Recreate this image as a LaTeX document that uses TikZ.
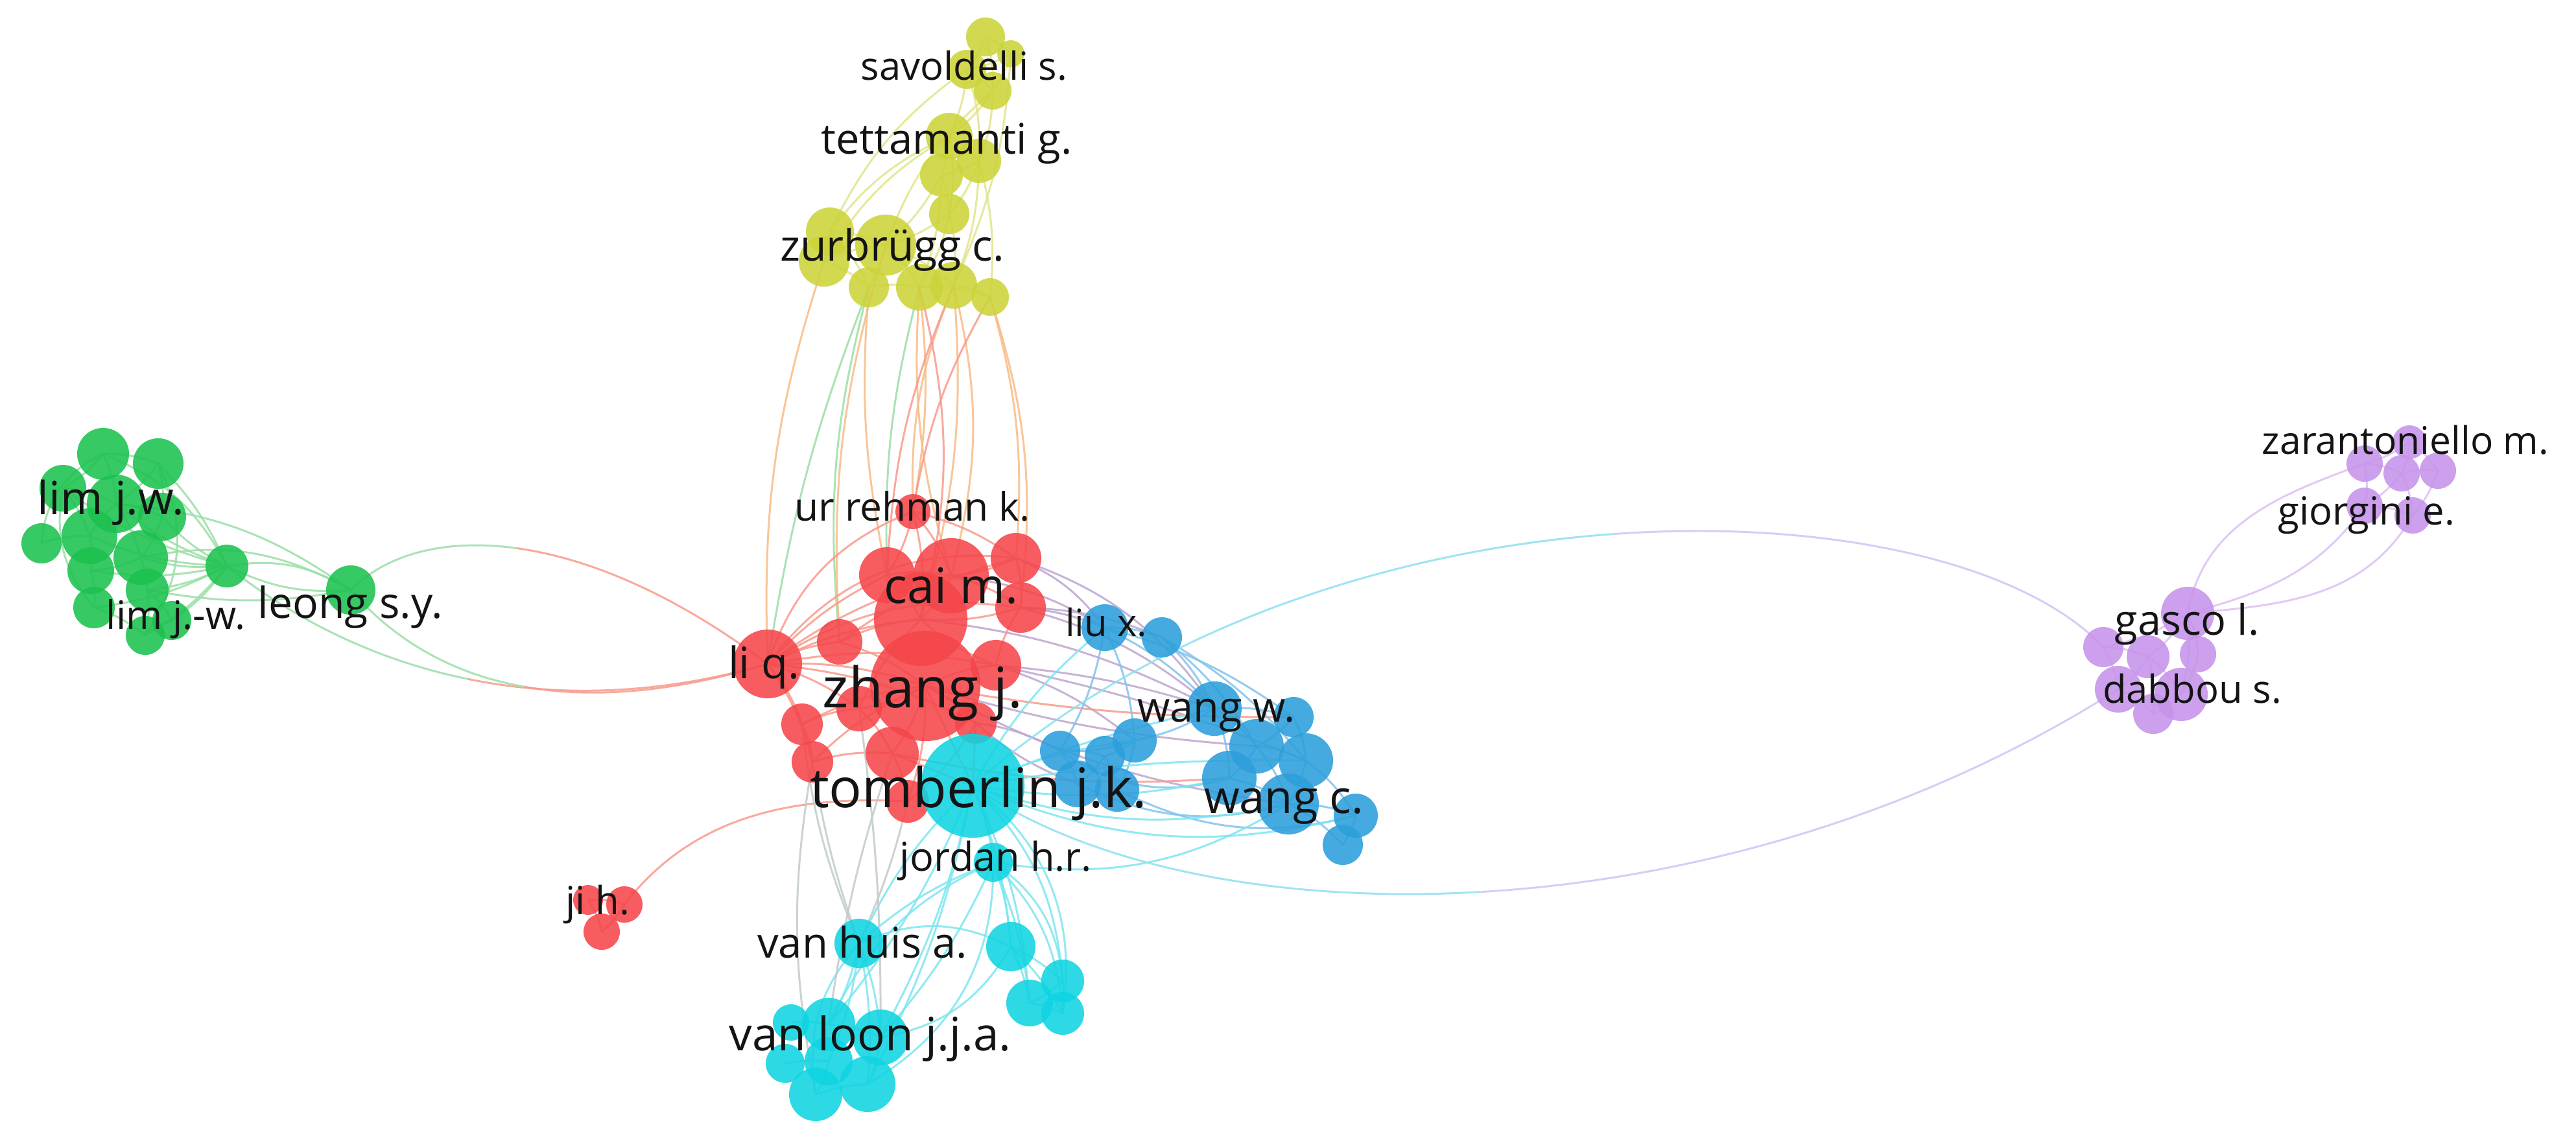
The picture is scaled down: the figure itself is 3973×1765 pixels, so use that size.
\documentclass[tikz,border=0pt]{standalone}
\usepackage{fontspec}
\setmainfont{Open Sans}
\pgfdeclarelayer{bg}
\pgfsetlayers{bg,main}
\definecolor{cR}{HTML}{F5464A}
\definecolor{cG}{HTML}{1CC24F}
\definecolor{cY}{HTML}{CCD43A}
\definecolor{cB}{HTML}{2C9FDB}
\definecolor{cC}{HTML}{10D4E2}
\definecolor{cP}{HTML}{C693EA}
\definecolor{lR}{HTML}{F89A8C}
\definecolor{lY}{HTML}{E2E48A}
\definecolor{lO}{HTML}{F8BC86}
\definecolor{lG}{HTML}{9ADFA6}
\definecolor{lB}{HTML}{84C3EC}
\definecolor{lC}{HTML}{7DE6F0}
\definecolor{lM}{HTML}{BEA6CE}
\definecolor{lK}{HTML}{C2CBCB}
\definecolor{lP}{HTML}{DCC0F4}
\definecolor{lCa}{HTML}{8EE0F0}
\definecolor{lPa}{HTML}{D3C2F5}
\begin{document}
\begin{tikzpicture}[x=0.01cm,y=-0.01cm,
  vn/.style={circle,inner sep=0pt,outer sep=0pt,draw=none,fill opacity=0.88},
  nR/.style={vn,fill=cR}, nG/.style={vn,fill=cG}, nY/.style={vn,fill=cY},
  nB/.style={vn,fill=cB}, nC/.style={vn,fill=cC}, nP/.style={vn,fill=cP},
  ed/.style={line width=0.85pt,draw opacity=0.85},
  eR/.style={ed,draw=lR}, eY/.style={ed,draw=lY}, eO/.style={ed,draw=lO},
  eG/.style={ed,draw=lG}, eB/.style={ed,draw=lB}, eC/.style={ed,draw=lC},
  eM/.style={ed,draw=lM}, eK/.style={ed,draw=lK}, eP/.style={ed,draw=lP},
  eCa/.style={ed,draw=lCa}, ePa/.style={ed,draw=lPa},
  lab/.style={font=\fontsize{#1}{#1}\selectfont,anchor=base,inner sep=0pt,text=black!92}]
\useasboundingbox (0,0) rectangle (3973,1765);

% ---------------- nodes ----------------
% yellow
\node[nY,minimum size=0.60cm] (y1) at (1520,57) {};
\node[nY,minimum size=0.42cm] (y2) at (1559,83) {};
\node[nY,minimum size=0.60cm] (y3) at (1491,107) {};
\node[nY,minimum size=0.58cm] (y4) at (1531,140) {};
\node[nY,minimum size=0.72cm] (y5) at (1464,210) {};
\node[nY,minimum size=0.68cm] (y6) at (1510,248) {};
\node[nY,minimum size=0.66cm] (y7) at (1452,270) {};
\node[nY,minimum size=0.62cm] (y8) at (1464,330) {};
\node[nY,minimum size=0.74cm] (y9) at (1280,357) {};
\node[nY,minimum size=0.78cm] (y10) at (1271,403) {};
\node[nY,minimum size=0.94cm] (y11) at (1366,378) {};
\node[nY,minimum size=0.62cm] (y12) at (1340,443) {};
\node[nY,minimum size=0.72cm] (y13) at (1418,443) {};
\node[nY,minimum size=0.72cm] (y14) at (1471,440) {};
\node[nY,minimum size=0.58cm] (y15) at (1527,458) {};
% green
\node[nG,minimum size=0.80cm] (g1) at (159,700) {};
\node[nG,minimum size=0.78cm] (g2) at (244,715) {};
\node[nG,minimum size=0.72cm] (g3) at (97,753) {};
\node[nG,minimum size=0.62cm] (g4) at (64,838) {};
\node[nG,minimum size=0.86cm] (g5) at (138,827) {};
\node[nG,minimum size=0.90cm] (g6) at (179,777) {};
\node[nG,minimum size=0.74cm] (g7) at (250,797) {};
\node[nG,minimum size=0.84cm] (g8) at (217,860) {};
\node[nG,minimum size=0.72cm] (g9) at (140,880) {};
\node[nG,minimum size=0.66cm] (g10) at (227,910) {};
\node[nG,minimum size=0.64cm] (g11) at (145,937) {};
\node[nG,minimum size=0.60cm] (g12) at (224,980) {};
\node[nG,minimum size=0.60cm] (g13) at (265,957) {};
\node[nG,minimum size=0.66cm] (g14) at (350,873) {};
\node[nG,minimum size=0.76cm] (g15) at (541,910) {};
% red
\node[nR,minimum size=1.70cm] (r9) at (1427,1058) {};
\node[nR,minimum size=1.44cm] (r8) at (1420,955) {};
\node[nR,minimum size=0.54cm] (r1) at (1408,789) {};
\node[nR,minimum size=0.78cm] (r2) at (1567,861) {};
\node[nR,minimum size=0.86cm] (r3) at (1368,887) {};
\node[nR,minimum size=1.16cm] (r4) at (1467,888) {};
\node[nR,minimum size=0.78cm] (r5) at (1574,937) {};
\node[nR,minimum size=1.06cm] (r6) at (1184,1024) {};
\node[nR,minimum size=0.70cm] (r7) at (1295,990) {};
\node[nR,minimum size=0.78cm] (r10) at (1536,1026) {};
\node[nR,minimum size=0.64cm] (r11) at (1237,1117) {};
\node[nR,minimum size=0.70cm] (r12) at (1325,1093) {};
\node[nR,minimum size=0.64cm] (r13) at (1253,1175) {};
\node[nR,minimum size=0.82cm] (r14) at (1376,1162) {};
\node[nR,minimum size=0.64cm] (r15) at (1505,1115) {};
\node[nR,minimum size=0.66cm] (r16) at (1400,1236) {};
\node[nR,minimum size=0.46cm] (j1) at (907,1388) {};
\node[nR,minimum size=0.56cm] (j2) at (963,1395) {};
\node[nR,minimum size=0.56cm] (j3) at (928,1437) {};
% blue
\node[nB,minimum size=0.72cm] (b1) at (1704,968) {};
\node[nB,minimum size=0.62cm] (b2) at (1792,983) {};
\node[nB,minimum size=0.84cm] (b3) at (1873,1093) {};
\node[nB,minimum size=0.62cm] (b4) at (1995,1106) {};
\node[nB,minimum size=0.68cm] (b5) at (1750,1142) {};
\node[nB,minimum size=0.62cm] (b6) at (1635,1158) {};
\node[nB,minimum size=0.62cm] (b7) at (1704,1166) {};
\node[nB,minimum size=0.84cm] (b8) at (1938,1151) {};
\node[nB,minimum size=0.84cm] (b9) at (2014,1173) {};
\node[nB,minimum size=0.84cm] (b10) at (1896,1200) {};
\node[nB,minimum size=0.94cm] (b11) at (1987,1240) {};
\node[nB,minimum size=0.72cm] (b12) at (1662,1209) {};
\node[nB,minimum size=0.68cm] (b13) at (1723,1218) {};
\node[nB,minimum size=0.68cm] (b14) at (2091,1258) {};
\node[nB,minimum size=0.62cm] (b15) at (2071,1303) {};
% cyan
\node[nC,minimum size=1.60cm] (c0) at (1500,1212) {};
\node[nC,minimum size=0.60cm] (c1) at (1532,1330) {};
\node[nC,minimum size=0.76cm] (c2) at (1325,1455) {};
\node[nC,minimum size=0.76cm] (c3) at (1559,1460) {};
\node[nC,minimum size=0.66cm] (c4) at (1639,1513) {};
\node[nC,minimum size=0.72cm] (c5) at (1588,1547) {};
\node[nC,minimum size=0.66cm] (c6) at (1639,1563) {};
\node[nC,minimum size=0.56cm] (c7) at (1220,1577) {};
\node[nC,minimum size=0.82cm] (c8) at (1278,1580) {};
\node[nC,minimum size=0.86cm] (c9) at (1358,1600) {};
\node[nC,minimum size=0.60cm] (c10) at (1211,1640) {};
\node[nC,minimum size=0.74cm] (c11) at (1278,1637) {};
\node[nC,minimum size=0.82cm] (c12) at (1258,1688) {};
\node[nC,minimum size=0.86cm] (c13) at (1338,1672) {};
% purple
\node[nP,minimum size=0.52cm] (p1) at (3716,682) {};
\node[nP,minimum size=0.56cm] (p2) at (3647,715) {};
\node[nP,minimum size=0.56cm] (p3) at (3704,730) {};
\node[nP,minimum size=0.56cm] (p4) at (3760,726) {};
\node[nP,minimum size=0.56cm] (p5) at (3647,780) {};
\node[nP,minimum size=0.56cm] (p6) at (3721,795) {};
\node[nP,minimum size=0.82cm] (p7) at (3374,946) {};
\node[nP,minimum size=0.62cm] (p8) at (3244,998) {};
\node[nP,minimum size=0.66cm] (p9) at (3313,1013) {};
\node[nP,minimum size=0.56cm] (p10) at (3390,1009) {};
\node[nP,minimum size=0.72cm] (p11) at (3267,1063) {};
\node[nP,minimum size=0.82cm] (p12) at (3364,1071) {};
\node[nP,minimum size=0.62cm] (p13) at (3321,1101) {};

% ---------------- labels ----------------
\node[lab=17]   (Lsav) at (1487,123) {savoldelli s.};
\node[lab=18.5] (Ltet) at (1460,237) {tettamanti g.};
\node[lab=18.8] (Lzur) at (1376,402) {zurbrügg c.};
\node[lab=20]   (Llim) at (171,793) {lim j.w.};
\node[lab=17.2] (Llim2) at (271,970) {lim j.-w.};
\node[lab=18.8] (Lleo) at (540,953) {leong s.y.};
\node[lab=17.2] (Lur) at (1407,803) {ur rehman k.};
\node[lab=21.4] (Lcai) at (1467,930) {cai m.};
\node[lab=19]   (Lli) at (1178,1046) {li q.};
\node[lab=24.5] (Lzha) at (1423,1091) {zhang j.};
\node[lab=16.5] (Lliu) at (1706,981) {liu x.};
\node[lab=18.4] (Lww) at (1876,1113) {wang w.};
\node[lab=24]   (Ltom) at (1509,1245) {tomberlin j.k.};
\node[lab=20]   (Lwc) at (1980,1254) {wang c.};
\node[lab=17.4] (Ljor) at (1536,1343) {jordan h.r.};
\node[lab=18.5] (Lvh) at (1330,1477) {van huis a.};
\node[lab=20.2] (Lvl) at (1342,1620) {van loon j.j.a.};
\node[lab=16.7] (Lzar) at (3710,700) {zarantoniello m.};
\node[lab=17]   (Lgio) at (3650,809) {giorgini e.};
\node[lab=18.4] (Lgas) at (3373,979) {gasco l.};
\node[lab=17]   (Ldab) at (3381,1084) {dabbou s.};
\node[lab=17]   (Lji) at (922,1410) {ji h.};

% ---------------- edges ----------------
\begin{pgfonlayer}{bg}
\fill[white] (0,0) rectangle (3973,1765);
% yellow internal
\foreach \a/\b in {y1/y3,y1/y4,y2/y3,y2/y4,y1/y2,y3/y4,y3/y5,y4/y5,y4/y6,y3/y6,y5/y6,y5/y7,y6/y7,y6/y8,y7/y8,y5/y8,y8/y11,y8/y13,y8/y14,y7/y11,y9/y10,y9/y11,y10/y11,y10/y12,y11/y12,y11/y13,y13/y14,y14/y15,y12/y13,y6/y15,y6/y14,y11/y14,y9/y12,y13/y15,y7/y13,y2/y14}
  \draw[eY] (\a.center) to[bend left=10] (\b.center);
\foreach \a/\b in {y5/y10,y5/y9,y4/y11,y3/y9}
  \draw[eY] (\a.center) to[bend right=14] (\b.center);
% yellow to red
\draw[eG] (y12.center) to[bend right=10] (r7.center);
\draw[eG] (y12.center) to[bend right=6] (r6.center);
\draw[eG] (y13.center) to[bend right=8] (r3.center);
\draw[eO] (y12.center) to[bend right=8] (r3.center);
\draw[eO] (y13.center) to[bend right=10] (r4.center);
\draw[eO] (y13.center) to[bend left=8] (r1.center);
\draw[eO] (y14.center) to[bend right=12] (r1.center);
\draw[eO] (y14.center) to[bend left=10] (r8.center);
\draw[eR] (y14.center) to[bend right=10] (r3.center);
\draw[eO] (y15.center) to[bend left=10] (r2.center);
\draw[eO] (y15.center) to[bend left=12] (r5.center);
\draw[eO] (y14.center) to[bend left=14] (r4.center);
\draw[eR] (y13.center) to[bend left=14] (r8.center);
\draw[eO] (y11.center) to[bend right=10] (r7.center);
\draw[eR] (y15.center) to[bend right=10] (r1.center);
\draw[eO] (y10.center) to[bend right=10] (r6.center);
% red internal
\foreach \a/\b in {r1/r3,r1/r4,r1/r8,r2/r4,r2/r5,r3/r4,r3/r8,r4/r8,r4/r5,r5/r8,r6/r7,r6/r3,r6/r8,r6/r9,r6/r11,r6/r12,r7/r9,r7/r8,r9/r10,r9/r14,r9/r12,r9/r15,r10/r5,r11/r12,r11/r13,r12/r14,r13/r14,r14/r16,r9/r16,r15/r16,r1/r2,r7/r2,r11/r9,r13/r9,r12/r8,r10/r8,r6/r4,r6/r10,r6/r15,r6/r13,j1/j2,j1/j3,j2/j3}
  \draw[eR] (\a.center) to[bend left=10] (\b.center);
\draw[eR] (r6.center) to[bend left=30] (r2.center);
\draw[eR] (r6.center) to[bend left=20] (r5.center);
\draw[eR] (r1.center) to[bend right=25] (r6.center);
\draw[eR] (j2.center) .. controls (1060,1270) and (1200,1225) .. (r16.center);
% red - blue
\draw[eM] (r2.center) to[bend left=15] (b1.center);
\draw[eM] (r5.center) to[bend left=8] (b1.center);
\draw[eM] (r5.center) to[bend left=12] (b3.center);
\draw[eM] (r10.center) to[bend left=6] (b3.center);
\draw[eM] (r10.center) to[bend left=10] (b5.center);
\draw[eM] (r9.center) to[bend right=6] (b8.center);
\draw[eM] (r2.center) to[bend left=18] (b3.center);
\draw[eM] (r15.center) to[bend left=10] (b6.center);
\draw[eM] (r15.center) to[bend right=10] (b12.center);
\draw[eM] (r5.center) to[bend left=10] (b2.center);
\draw[eM] (r10.center) to[bend left=5] (b9.center);
\draw[eM] (r9.center) to[bend right=10] (b11.center);
\draw[eM] (r8.center) to[bend left=10] (b3.center);
\draw[eM] (r4.center) to[bend left=12] (b1.center);
\draw[eR] (r9.center) to[bend right=5] (b4.center);
\draw[eR] (r14.center) to[bend right=8] (b10.center);
% blue internal
\foreach \a/\b in {b1/b2,b1/b3,b1/b5,b1/b6,b2/b3,b2/b8,b3/b4,b3/b5,b3/b8,b3/b10,b4/b8,b4/b9,b5/b6,b5/b7,b5/b13,b6/b7,b6/b12,b7/b12,b7/b13,b8/b9,b8/b10,b8/b11,b9/b11,b10/b11,b11/b14,b11/b15,b14/b15,b9/b14,b1/b4,b2/b9}
  \draw[eB] (\a.center) to[bend left=10] (\b.center);
\draw[eB] (b12.center) to[bend right=20] (b11.center);
\draw[eB] (b13.center) to[bend right=20] (b14.center);
\draw[eB] (b6.center) to[bend right=25] (b10.center);
% cyan - blue
\draw[eC] (c0.center) to[bend left=10] (b1.center);
\draw[eC] (c0.center) to[bend left=5] (b3.center);
\draw[eC] (c0.center) to[bend left=8] (b5.center);
\draw[eC] (c0.center) to[bend right=10] (b10.center);
\draw[eC] (c0.center) to[bend right=15] (b11.center);
\draw[eC] (c0.center) to[bend left=5] (b9.center);
\draw[eC] (c1.center) to[bend right=20] (b11.center);
\draw[eC] (c0.center) to[bend right=18] (b14.center);
% cyan internal
\foreach \a/\b in {c0/c1,c0/c3,c0/c9,c1/c3,c1/c5,c2/c8,c2/c9,c2/c11,c2/c13,c3/c4,c3/c5,c3/c6,c4/c5,c5/c6,c4/c6,c8/c9,c7/c8,c9/c13,c10/c11,c11/c12,c12/c13,c0/c8}
  \draw[eC] (\a.center) to[bend left=8] (\b.center);
\draw[eC] (c0.center) to[bend right=10] (c2.center);
\draw[eC] (c0.center) to[bend left=20] (c4.center);
\draw[eC] (c0.center) to[bend left=10] (c5.center);
\draw[eC] (c0.center) to[bend left=8] (c13.center);
\draw[eC] (c1.center) to[bend right=10] (c2.center);
\draw[eC] (c1.center) to[bend left=25] (c4.center);
\draw[eC] (c1.center) to[bend left=20] (c6.center);
\draw[eC] (c1.center) to[bend left=8] (c9.center);
\draw[eC] (c1.center) to[bend right=20] (c8.center);
\draw[eC] (c2.center) to[bend left=25] (c3.center);
\draw[eC] (c2.center) to[bend right=25] (c12.center);
\draw[eC] (c9.center) to[bend right=25] (c3.center);
\draw[eC] (c13.center) to[bend right=30] (c1.center);
\draw[eC] (c0.center) to[bend left=30] (c6.center);
% red - cyan
\draw[eK] (r13.center) to[bend right=5] (c2.center);
\draw[eK] (r11.center) to[bend right=8] (c2.center);
\draw[eK] (r16.center) to[bend left=5] (c2.center);
\draw[eK] (r14.center) to[bend right=5] (c8.center);
\draw[eK] (r13.center) to[bend right=10] (c12.center);
\draw[eK] (r12.center) to[bend left=4] (c9.center);
\draw[eR] (r9.center) -- (c0.center);
\draw[eR] (r15.center) -- (c0.center);
\draw[eR] (r14.center) -- (c0.center);
% green internal
\foreach \a/\b in {g1/g2,g1/g3,g1/g6,g2/g6,g2/g7,g3/g6,g3/g5,g4/g5,g5/g6,g5/g9,g6/g7,g6/g8,g7/g8,g8/g9,g8/g10,g9/g11,g10/g12,g10/g13,g11/g12,g12/g13,g14/g5,g14/g6,g14/g7,g14/g8,g14/g9,g14/g10,g14/g12,g14/g13}
  \draw[eG] (\a.center) to[bend left=10] (\b.center);
\draw[eG] (g14.center) to[bend right=20] (g1.center);
\draw[eG] (g14.center) to[bend right=10] (g2.center);
\draw[eG] (g14.center) to[bend left=10] (g3.center);
\draw[eG] (g14.center) to[bend left=10] (g11.center);
\draw[eG] (g15.center) to[bend right=20] (g14.center);
\draw[eG] (g15.center) to[bend left=15] (g14.center);
\draw[eG] (g15.center) to[bend right=15] (g6.center);
\draw[eG] (g15.center) to[bend right=20] (g8.center);
\draw[eG] (g15.center) to[bend left=10] (g10.center);
\draw[eG] (g1.center) to[bend right=30] (g4.center);
\draw[eG] (g2.center) to[bend left=30] (g12.center);
\draw[eG] (g3.center) to[bend right=25] (g11.center);
% green - red
\coordinate (gm1) at (796.9,845.5);
\coordinate (gm2) at (720.5,1047);
\coordinate (gm3) at (808,1059);
\draw[eG] (g15.center) .. controls (595.5,855) and (685.25,830) .. (gm1);
\draw[eR] (gm1) .. controls (908.5,861) and (1042,917) .. (r6.center);
\draw[eG] (g14.center) .. controls (455,956.5) and (580,1018.25) .. (gm2);
\draw[eR] (gm2) .. controls (861,1076) and (1017,1072) .. (r6.center);
\draw[eG] (g15.center) .. controls (610.5,990) and (700.25,1040) .. (gm3);
\draw[eR] (gm3) .. controls (916,1078.5) and (1042,1067) .. (r6.center);
% purple internal
\foreach \a/\b in {p1/p2,p1/p3,p1/p4,p2/p3,p2/p5,p3/p4,p3/p6,p4/p6,p5/p6,p3/p5,p7/p8,p7/p9,p7/p10,p8/p9,p8/p11,p9/p12,p9/p11,p10/p12,p11/p13,p12/p13,p9/p13,p7/p12}
  \draw[eP] (\a.center) to[bend left=10] (\b.center);
\draw[eP] (p7.center) to[out=80,in=200] (p2.center);
\draw[eP] (p7.center) to[out=15,in=235] (p5.center);
\draw[eP] (p7.center) to[out=5,in=240] (p6.center);
% long arcs cyan - purple
\coordinate (tm) at (2486.75,823.75);
\coordinate (bm) at (2283.4,1375.6);
\draw[eCa] (c0.center) .. controls (1775,966) and (2150,848) .. (tm);
\draw[ePa] (tm) .. controls (2823.5,799.5) and (3122,869) .. (p8.center);
\draw[eCa] (c0.center) .. controls (1675,1333.5) and (1962.5,1394.25) .. (bm);
\draw[ePa] (bm) .. controls (2604.25,1357) and (2958.5,1259) .. (p11.center);
\end{pgfonlayer}
\end{tikzpicture}
\end{document}
